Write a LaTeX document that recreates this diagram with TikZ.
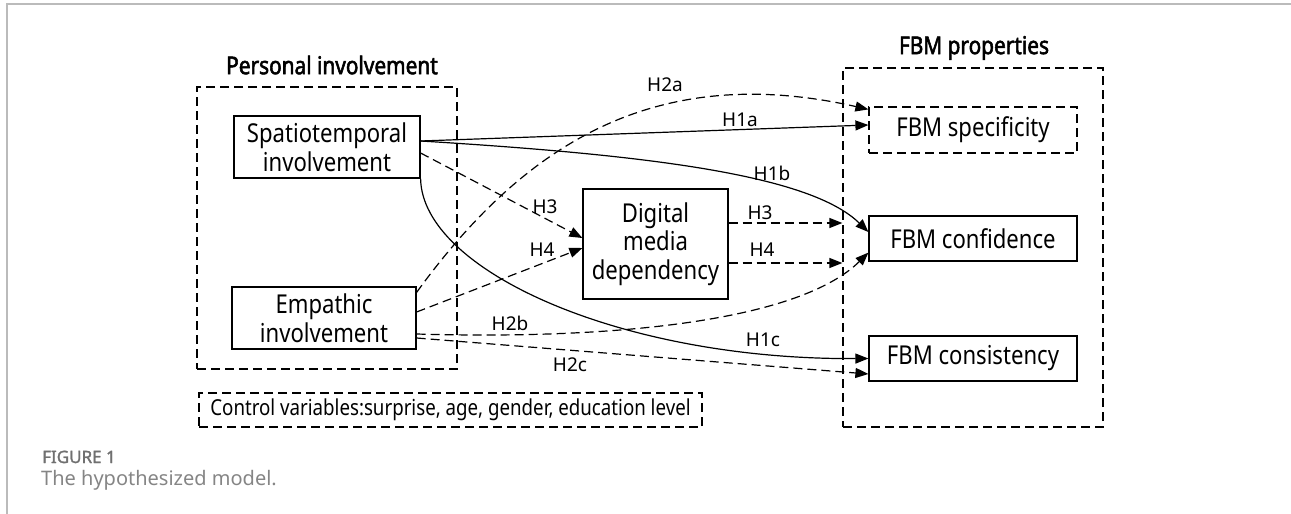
\documentclass[tikz,border=0pt]{standalone}
\usepackage{fontspec}
\setmainfont[FakeStretch=0.85]{Noto Sans}
\newfontfamily\lblfont{Noto Sans}
\newfontfamily\headfont[FakeStretch=0.85,FakeBold=2.2]{Noto Sans}
\newfontfamily\figfont[FakeBold=1.6]{Noto Sans}
\usetikzlibrary{arrows.meta,calc}
\definecolor{framegray}{HTML}{BBBBBB}
\definecolor{capgray}{HTML}{707070}
\definecolor{capgray2}{HTML}{858585}
\begin{document}
\begin{tikzpicture}[x=1pt,y=-1pt,
  box/.style={draw, line width=1.2pt, inner sep=0pt, align=center,
    font=\fontsize{26}{28.5}\selectfont},
  dsh/.style={dash pattern=on 9pt off 5pt},
  grp/.style={draw, line width=1.2pt, dash pattern=on 9pt off 5pt, inner sep=0pt},
  head/.style={font=\headfont\fontsize{24.5}{24.5}\selectfont, inner sep=0pt},
  arr/.style={-{Triangle[length=13pt,width=10pt]}, line width=1.2pt},
  lbl/.style={font=\lblfont\fontsize{19}{19}\selectfont, inner sep=0pt}
]
\useasboundingbox (0,0) rectangle (1291,514);
\draw[framegray, line width=1.5pt] (7,514) -- (7,4) -- (1291,4);

% group boxes
\node[grp, minimum width=260, minimum height=282] (pbox) at (327,228) {};
\node[head] (phead) at (332,65) {Personal involvement};
\node[grp, minimum width=260, minimum height=359] (fbox) at (973,247.5) {};
\node[head] (fhead) at (974,48) {FBM properties};

% variable boxes
\node[box, minimum width=186, minimum height=62] (spat) at (327,147) {Spatiotemporal\\involvement};
\node[box, minimum width=184, minimum height=62] (emp) at (324,318) {Empathic\\involvement};
\node[box, minimum width=145, minimum height=110] (dig) at (655.5,244) {Digital\\media\\dependency};
\node[box, dsh, minimum width=208, minimum height=46] (spec) at (973,130) {FBM specificity};
\node[box, minimum width=208, minimum height=45] (conf) at (973,238.5) {FBM confidence};
\node[box, minimum width=208, minimum height=45] (cons) at (973,358.5) {FBM consistency};
\node[grp, minimum width=503, minimum height=34, font=\fontsize{22}{22}\selectfont] (ctrl) at (450.5,410) {Control variables:surprise, age, gender, education level};

% connectors
\draw[arr] ([yshift=6pt]spat.east) -- ([yshift=5pt]spec.west);
\draw[arr] ([yshift=6pt]spat.east) .. controls (650,155) and (810,175) .. ([yshift=6.5pt]conf.west);
\draw[arr] (spat.south east) .. controls (422,270) and (620,360) .. (cons.west);
\draw[arr, dsh] ([yshift=-6pt]emp.north east) .. controls (520,150) and (650,60) .. ([yshift=-3pt]spec.north west);
\draw[arr, dsh] ([yshift=-16pt]emp.east) .. controls (620,340) and (800,320) .. ([yshift=9pt]conf.south west);
\draw[arr, dsh] ([yshift=-20pt]emp.east) -- ([yshift=-15.5pt]cons.west);
\draw[arr, dsh] ([yshift=-6pt]spat.east) -- ([yshift=6pt]dig.west);
\draw[arr, dsh] ([yshift=6pt]emp.east) -- ([yshift=-4pt]dig.west);
\draw[arr, dsh] ([yshift=21pt]dig.east) -- ([yshift=24.5pt]fbox.west);
\draw[arr, dsh] ([yshift=-19pt]dig.east) -- ([yshift=-15.5pt]fbox.west);

% labels
\node[lbl] (l2a) at (665,85) {H2a};
\node[lbl] (l1a) at (740,120) {H1a};
\node[lbl] (l1b) at (772,173) {H1b};
\node[lbl] (l3l) at (545,207) {H3};
\node[lbl] (l4l) at (542,250) {H4};
\node[lbl] (l3r) at (760,213) {H3};
\node[lbl] (l4r) at (762,250) {H4};
\node[lbl] (l2b) at (510,323) {H2b};
\node[lbl] (l2c) at (570,365) {H2c};
\node[lbl] (l1c) at (763,340) {H1c};

% caption
\node[anchor=base west, font=\figfont\fontsize{17}{17}\selectfont, text=capgray, inner sep=0pt] (fig) at (42,463) {FIGURE 1};
\node[anchor=base west, font=\lblfont\fontsize{20}{20}\selectfont, text=capgray2, inner sep=0pt] (cap) at (41,485) {The hypothesized model.};
\end{tikzpicture}
\end{document}
